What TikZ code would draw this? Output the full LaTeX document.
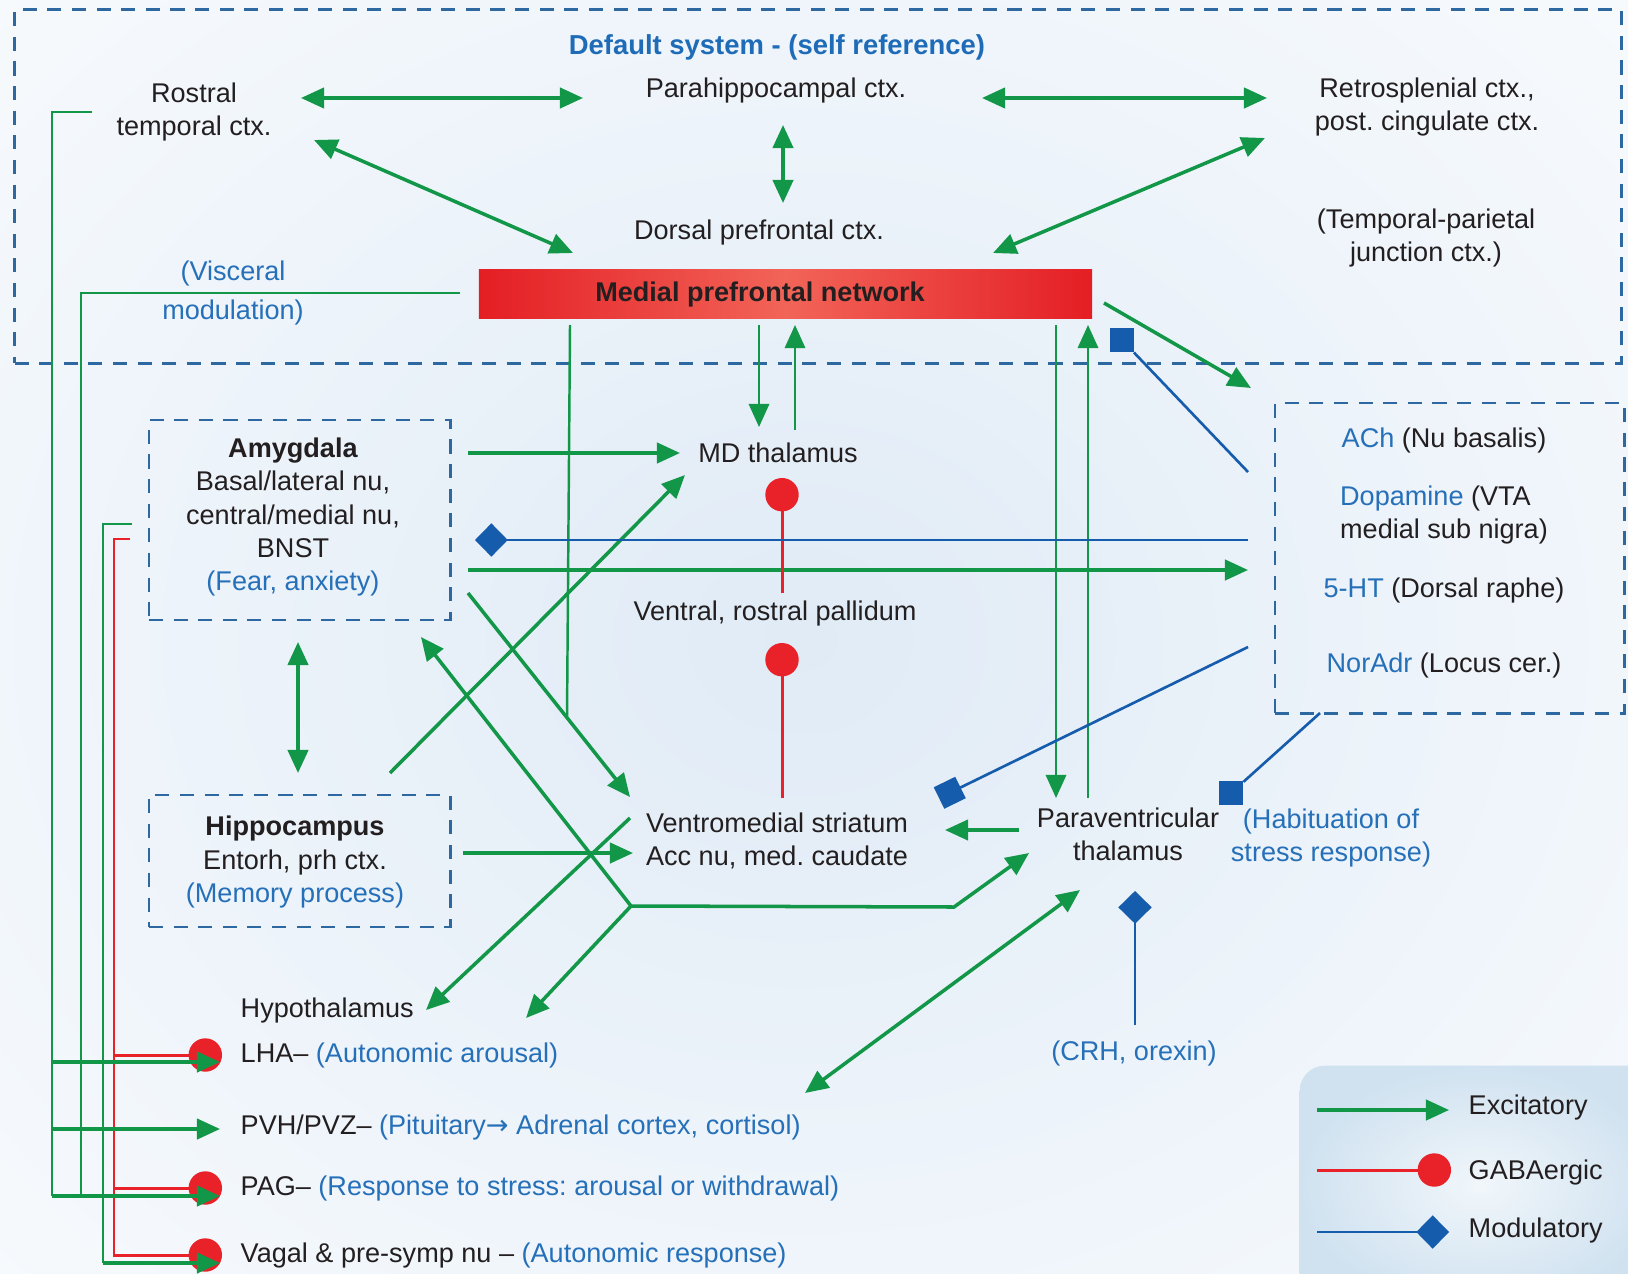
\documentclass[tikz,border=0pt]{standalone}
\usepackage{fontspec}
\setmainfont{Liberation Sans}
\newfontfamily\arrowfont{DejaVu Sans}
\usetikzlibrary{arrows.meta}
\definecolor{ink}{RGB}{35,31,32}
\definecolor{labblue}{RGB}{38,112,185}
\definecolor{titleblue}{RGB}{30,108,184}
\definecolor{dashblue}{RGB}{45,105,160}
\definecolor{exgreen}{RGB}{18,150,72}
\definecolor{gabred}{RGB}{232,34,40}
\definecolor{modblue}{RGB}{22,92,172}
\definecolor{mpnred}{RGB}{228,30,36}
\definecolor{mpnlite}{RGB}{242,100,88}
\definecolor{bgblue}{RGB}{224,235,246}
\definecolor{legblue}{RGB}{208,226,240}
\tikzset{
  lbl/.style={font=\fontsize{7.7}{9.4}\selectfont, text=ink, align=center, inner sep=0pt},
  blbl/.style={lbl, text=labblue},
  region/.style={draw=dashblue, line width=0.8pt, dash pattern=on 4pt off 3pt, inner sep=0pt},
  mpnbar/.style={rectangle, inner sep=0pt, left color=mpnred, right color=mpnred, middle color=mpnlite},
  exc/.style={color=exgreen, line width=1pt},
  wire/.style={color=exgreen, line width=0.7pt},
  gaba/.style={color=gabred, line width=0.85pt},
  gtip/.style={-{Circle[length=9.5pt]}},
  modu/.style={color=modblue, line width=0.75pt},
  dtip/.style={-{Diamond[length=9.3pt, width=9.5pt]}},
  modsq/.style={fill=modblue, minimum size=0.235cm, inner sep=0pt},
  legbox/.style={rounded corners=0.25cm, inner color=white!70!legblue, outer color=legblue, inner sep=0pt},
}
\begin{document}
\frenchspacing
\begin{tikzpicture}[x=0.01cm, y=-0.01cm, >={Triangle[length=6.6pt, width=5.8pt]}]
  \useasboundingbox (0, 0) rectangle (1628, 1273);
  \begin{scope}
    \clip (0, 0) rectangle (1628, 1273);
    \shade[inner color=bgblue, outer color=white] (800, 640) ellipse (1500 and 1250);
  \end{scope}

  % regions
  \node[region, minimum width=16.06cm, minimum height=3.53cm] (dflt) at (818, 186.5) {};
  \node[region, minimum width=3.01cm, minimum height=2.00cm] (amyg) at (299.5, 520) {};
  \node[region, minimum width=3.01cm, minimum height=1.32cm] (hippo) at (299.5, 861) {};
  \node[region, minimum width=3.49cm, minimum height=3.10cm] (nmod) at (1449.5, 558) {};
  \node[mpnbar, minimum width=6.13cm, minimum height=0.48cm] (mpn) at (785.5, 294) {};
  \node[legbox, anchor=north west, minimum width=3.6cm, minimum height=2.4cm] (leg) at (1299, 1065) {};

  % labels
  \draw (777, 47) node (title) [lbl, font=\fontsize{7.8}{9.4}\selectfont\bfseries, text=titleblue] {Default system - (self reference)}
        (194, 112) node (rostral) [lbl] {Rostral\\temporal ctx.}
        (776, 90) node (para) [lbl] {Parahippocampal ctx.}
        (1427, 107) node (retro) [lbl] {Retrosplenial ctx.,\\post. cingulate ctx.}
        (759, 232) node (dorsal) [lbl] {Dorsal prefrontal ctx.}
        (1426, 238) node (tpj) [lbl] {(Temporal-parietal\\junction ctx.)}
        (233, 293) node (visc) [blbl] {(Visceral\\[1.8pt]modulation)}
        (760, 294) node (mpntxt) [lbl, font=\fontsize{7.7}{9.4}\selectfont\bfseries] {Medial prefrontal network};
  \draw (293, 517) node (amygtxt) [lbl] {\textbf{Amygdala}\\Basal/lateral nu,\\central/medial nu,\\BNST\\\textcolor{labblue}{(Fear, anxiety)}}
        (295, 862) node (hippotxt) [lbl] {\textbf{Hippocampus}\\Entorh, prh ctx.\\\textcolor{labblue}{(Memory process)}}
        (778, 453) node (md) [lbl] {MD thalamus}
        (775, 613) node (pall) [lbl] {Ventral, rostral pallidum}
        (777, 841) node (striat) [lbl] {Ventromedial striatum\\Acc nu, med. caudate}
        (1128, 834) node (pvt) [lbl] {Paraventricular\\thalamus}
        (1331, 838) node (habit) [blbl] {(Habituation of\\stress response)}
        (1134, 1053) node (crh) [blbl] {(CRH, orexin)};
  \draw (1444, 440) node (ach) [lbl] {\textcolor{labblue}{ACh} (Nu basalis)}
        (1444, 515) node (dopa) [lbl, align=left] {\textcolor{labblue}{Dopamine} (VTA\\medial sub nigra)}
        (1444, 590) node (sero) [lbl] {\textcolor{labblue}{5-HT} (Dorsal raphe)}
        (1444, 665) node (nora) [lbl] {\textcolor{labblue}{NorAdr} (Locus cer.)};
  \draw (240, 1010) node (hypo) [lbl, anchor=west] {Hypothalamus}
        (240, 1055) node (lha) [lbl, anchor=west] {LHA– \textcolor{labblue}{(Autonomic arousal)}}
        (240, 1127) node (pvh) [lbl, anchor=west] {PVH/PVZ– \textcolor{labblue}{(Pituitary{\arrowfont →} Adrenal cortex, cortisol)}}
        (240, 1188) node (pag) [lbl, anchor=west] {PAG– \textcolor{labblue}{(Response to stress: arousal or withdrawal)}}
        (240, 1255) node (vagal) [lbl, anchor=west] {Vagal \& pre-symp nu – \textcolor{labblue}{(Autonomic response)}};
  \draw (1468, 1107) node (extxt) [lbl, anchor=west] {Excitatory}
        (1468, 1172) node (gbtxt) [lbl, anchor=west] {GABAergic}
        (1468, 1230) node (mdtxt) [lbl, anchor=west] {Modulatory};

  % connector ends
  \path (301, 98) coordinate (rt-e)    (583, 98) coordinate (ph-w)
        (982, 98) coordinate (ph-e)    (1267, 98) coordinate (rs-w)
        (783, 125) coordinate (ph-s)   (783, 203) coordinate (dp-n)
        (314, 140) coordinate (rt-se)  (573, 253) coordinate (mp-nw)
        (1265, 138) coordinate (rs-sw) (993, 253) coordinate (mp-ne);
  \path (570, 325) coordinate (mp-s1)  (567, 717) coordinate (join)
        (759, 325) coordinate (mp-s2)  (759, 427) coordinate (md-n1)
        (795, 430) coordinate (md-n2)  (795, 325) coordinate (mp-s3)
        (1056, 325) coordinate (mp-s4) (1056, 798) coordinate (pv-n1)
        (1088, 798) coordinate (pv-n2) (1088, 325) coordinate (mp-s5)
        (1104, 303) coordinate (mp-e)  (1251, 388) coordinate (nm-nw);
  \path (468, 453) coordinate (am-e1)  (680, 453) coordinate (md-w)
        (468, 570) coordinate (am-e2)  (1248, 570) coordinate (nm-w2)
        (1248, 540) coordinate (nm-w1) (475, 540) coordinate (am-e3)
        (468, 593) coordinate (am-e4)  (630, 797) coordinate (st-nw)
        (631, 906) coordinate (hub)    (954, 907) coordinate (bend)
        (421, 637) coordinate (am-se)  (526, 1018) coordinate (hy-ne)
        (1029, 853) coordinate (pv-sw) (630, 818) coordinate (st-w)
        (426, 1010) coordinate (hy-n)  (390, 773) coordinate (hi-ne)
        (685, 475) coordinate (md-sw)  (463, 853) coordinate (hi-e)
        (633, 853) coordinate (st-w2)  (298, 642) coordinate (am-s)
        (298, 773) coordinate (hi-n);
  \path (782, 593) coordinate (pl-n)   (782, 478) coordinate (md-s)
        (782, 798) coordinate (st-n)   (782, 643) coordinate (pl-s)
        (1248, 472) coordinate (nm-w0) (1248, 647) coordinate (nm-w3)
        (939, 798) coordinate (st-e)   (1320, 713) coordinate (nm-s)
        (1135, 1025) coordinate (crh-n) (1135, 891) coordinate (pv-s)
        (1019, 830) coordinate (pv-w)  (945, 830) coordinate (st-e2)
        (1080, 890) coordinate (pv-s2) (805, 1093) coordinate (pvh-e);
  \path (92, 112) coordinate (rt-w)    (460, 293) coordinate (mp-w)
        (132, 524) coordinate (am-w1)  (130, 539) coordinate (am-w2)
        (220, 1062) coordinate (lha-g) (222, 1055) coordinate (lha-r)
        (220, 1129) coordinate (pvh-g)
        (220, 1196) coordinate (pag-g) (222, 1188) coordinate (pag-r)
        (220, 1263) coordinate (vag-g) (222, 1255) coordinate (vag-r);

  % default system
  \draw[exc] (rt-e) edge[<->] (ph-w)
             (ph-e) edge[<->] (rs-w)
             (ph-s) edge[<->] (dp-n)
             (rt-se) edge[<->] (mp-nw)
             (rs-sw) edge[<->] (mp-ne);

  % medial prefrontal outputs
  \draw[wire] (mp-s1) -- (join);
  \draw[wire] (mp-s2) edge[->] (md-n1)
              (md-n2) edge[->] (mp-s3)
              (mp-s4) edge[->] (pv-n1)
              (pv-n2) edge[->] (mp-s5);
  \draw[exc, ->] (mp-e) -- (nm-nw);

  % amygdala, hippocampus, striatum
  \draw[exc] (am-e1) edge[->] (md-w)
             (am-e2) edge[->] (nm-w2)
             (am-e4) edge[->] (st-nw)
             (hub) edge[->] (am-se)
             (hub) edge[->] (hy-ne)
             (st-w) edge[->] (hy-n)
             (hi-ne) edge[->] (md-sw)
             (hi-e) edge[->] (st-w2)
             (pv-w) edge[->] (st-e2)
             (am-s) edge[<->] (hi-n)
             (pv-s2) edge[<->] (pvh-e);
  \draw[exc, ->] (hub) -- (bend) -- (pv-sw);

  % GABAergic
  \draw[gaba] (pl-n) edge[gtip] (md-s)
              (st-n) edge[gtip] (pl-s);

  % modulatory
  \node[modsq] (sqmpn) at (1122, 340) {};
  \node[modsq] (sqpvt) at (1231, 793) {};
  \draw[modu] (nm-w0) -- (sqmpn);
  \draw[modu] (nm-s) -- (sqpvt);
  \draw[modu, -{Square[length=6.8pt, width=6.8pt]}] (nm-w3) -- (st-e);
  \draw[modu] (nm-w1) edge[dtip] (am-e3)
              (crh-n) edge[dtip] (pv-s);

  % descending lines
  \draw[gaba, line width=0.7pt] (am-w2) -- (114, 539) -- (114, 1188);
  \draw[gaba, gtip] (114, 1055) -- (lha-r);
  \draw[gaba, gtip] (114, 1188) -- (pag-r);
  \draw[gaba, gtip] (114, 1180) -- (114, 1255) -- (vag-r);
  \draw[wire] (rt-w) -- (52, 112) -- (52, 1196);
  \draw[wire] (mp-w) -- (81, 293) -- (81, 1196);
  \draw[wire] (am-w1) -- (103, 524) -- (103, 1263);
  \draw[exc, ->] (52, 1062) -- (lha-g);
  \draw[exc, ->] (52, 1129) -- (pvh-g);
  \draw[exc, ->] (52, 1196) -- (pag-g);
  \draw[exc, ->] (103, 1263) -- (vag-g);

  % legend
  \path (1317, 1110) coordinate (lg1) (1449, 1110) coordinate (lg1e)
        (1317, 1170) coordinate (lg2) (1451, 1170) coordinate (lg2e)
        (1317, 1232) coordinate (lg3) (1449, 1232) coordinate (lg3e);
  \draw[exc, ->] (lg1) -- (lg1e);
  \draw[gaba, gtip] (lg2) -- (lg2e);
  \draw[modu, dtip] (lg3) -- (lg3e);
\end{tikzpicture}
\end{document}
